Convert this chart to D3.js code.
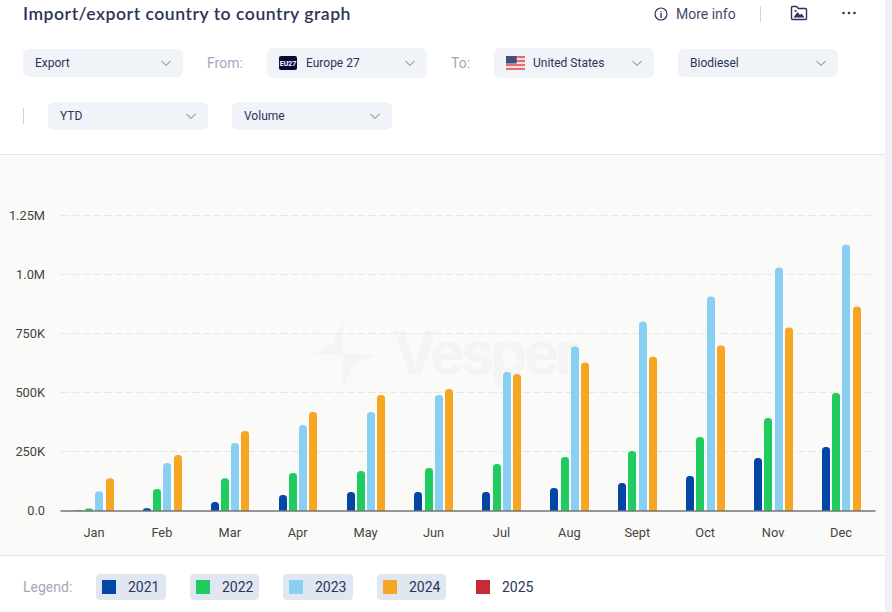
<!DOCTYPE html>
<html><head><meta charset="utf-8">
<script src="https://cdn.jsdelivr.net/npm/d3@7/dist/d3.min.js"></script>
<style>
html,body{margin:0;padding:0;background:#fff;overflow:hidden}
svg{display:block}
text{font-family:Roboto,sans-serif}
</style></head><body>
<svg id="c" width="892" height="612"></svg>
<script>
const months=["Jan","Feb","Mar","Apr","May","Jun","Jul","Aug","Sept","Oct","Nov","Dec"];
const years=["2021","2022","2023","2024"];
const legendYears=["2021","2022","2023","2024","2025"];
const v2021=[1000,10000,36000,66000,78000,78000,78000,95000,116000,146000,222000,269000];
const v2022=[9000,91000,137000,159000,167000,180000,197000,227000,252000,311000,392000,498000];
const v2023=[82000,201000,286000,362000,417000,489000,587000,695000,801000,907000,1030000,1127000];
const v2024=[137000,235000,337000,417000,489000,515000,578000,627000,652000,699000,775000,864000];
const seriesValues=[v2021,v2022,v2023,v2024];
const colors=["#0346a6","#20cb60","#89cff1","#f6a623","#c92a3a"];
const yTicks=[0,250000,500000,750000,1000000,1250000];
const yTickLabels=["0.0","250K","500K","750K","1.0M","1.25M"];

const svg=d3.select("#c");
const ink="#2c3459", muted="#a4a8bb", pill="#f0f3f8";

// panel
svg.append("rect").attr("x",0).attr("y",155).attr("width",885).attr("height",400).attr("fill","#fafaf8");
svg.append("line").attr("x1",0).attr("x2",885).attr("y1",154.5).attr("y2",154.5).attr("stroke","#e6e6e6");
svg.append("line").attr("x1",0).attr("x2",885).attr("y1",555.5).attr("y2",555.5).attr("stroke","#e6e6e6");
svg.append("rect").attr("x",885).attr("y",0).attr("width",7).attr("height",612).attr("fill","#eef1f8");
svg.append("rect").attr("x",885).attr("y",556).attr("width",1).attr("height",56).attr("fill","#e8ebf2");

// header
svg.append("text").attr("x",23).attr("y",20).attr("font-size",17.6).attr("font-weight",600).attr("fill",ink)
  .style("font-family","Lato, sans-serif").attr("letter-spacing",0.52).text("Import/export country to country graph");
svg.append("circle").attr("cx",661).attr("cy",14).attr("r",6).attr("fill","none").attr("stroke",ink).attr("stroke-width",1.2);
svg.append("text").attr("x",661).attr("y",17.5).attr("text-anchor","middle").attr("font-size",9.5).attr("font-weight",700).attr("fill",ink).text("i");
svg.append("text").attr("x",676).attr("y",19).attr("font-size",14).attr("fill","#444b6b").text("More info");
svg.append("line").attr("x1",760.5).attr("x2",760.5).attr("y1",6).attr("y2",22).attr("stroke","#cfd2dc");
// image icon
svg.append("path").attr("d","M791.5 7.5a1 1 0 0 1 1-1h4l2 2h7a1 1 0 0 1 1 1v9a1 1 0 0 1-1 1h-13a1 1 0 0 1-1-1z").attr("fill","none").attr("stroke",ink).attr("stroke-width",1.4);
svg.append("path").attr("d","M793.5 17.5l4-5.5 2.5 3 1.5-1.5 3 4z").attr("fill",ink);
svg.append("circle").attr("cx",795.5).attr("cy",11).attr("r",1.1).attr("fill",ink);
[843.5,849,854.5].forEach(x=>svg.append("circle").attr("cx",x).attr("cy",13).attr("r",1.3).attr("fill",ink));

// controls
const controls=[
 {x:23,y:49,h:28,label:"Export"},
 {x:267,y:48,h:30,label:"Europe 27",flag:"eu"},
 {x:494,y:48,h:30,label:"United States",flag:"us"},
 {x:678,y:49,h:28,label:"Biodiesel"},
 {x:48,y:102,h:28,label:"YTD"},
 {x:232,y:102,h:28,label:"Volume"}];
controls.forEach(c=>{
  const g=svg.append("g").attr("transform",`translate(${c.x},${c.y})`);
  g.append("rect").attr("width",160).attr("height",c.h).attr("rx",6).attr("fill",pill);
  const my=c.h/2;
  g.append("text").attr("x",c.flag?39:12).attr("y",my+4.2).attr("font-size",12).attr("fill",ink).text(c.label);
  g.append("path").attr("d",`M${138.5} ${my-2}l4.5 4.5l4.5-4.5`).attr("fill","none").attr("stroke","#a3a7b5").attr("stroke-width",1.2);
  if(c.flag==="eu"){
    g.append("rect").attr("x",12).attr("y",my-7).attr("width",18).attr("height",14).attr("rx",2).attr("fill","#060a3a");
    g.append("text").attr("x",21).attr("y",my+2.6).attr("text-anchor","middle").attr("font-size",7).attr("font-weight",700).attr("fill","#fff").text("EU27");
  }
  if(c.flag==="us"){
    d3.range(7).forEach(i=>g.append("rect").attr("x",12).attr("y",my-7+i*2).attr("width",19).attr("height",2).attr("fill",i%2?"#f6dcdc":"#df6f76"));
    g.append("rect").attr("x",12).attr("y",my-7).attr("width",10.7).attr("height",7.5).attr("fill","#3f4f7f");
  }
});
svg.append("text").attr("x",207).attr("y",67.5).attr("font-size",14).attr("fill",muted).text("From:");
svg.append("text").attr("x",451).attr("y",67.5).attr("font-size",14).attr("fill",muted).text("To:");
svg.append("line").attr("x1",23.5).attr("x2",23.5).attr("y1",108).attr("y2",124).attr("stroke","#cfd2dc");

// watermark
const wm=svg.append("g").attr("fill","#f4f4f2");
wm.append("path").attr("d","M343 322L333 344L309 354.5L343 354.5Z M376.7 354.5L353 365L343 388L343 354.5Z");
wm.append("text").attr("x",393).attr("y",374).attr("font-size",59).attr("font-weight",700).attr("letter-spacing",-3.8).style("font-family","Inter, sans-serif").text("Vesper");

// chart
const x=d3.scaleBand().domain(months).range([60,875]);
const xi=d3.scaleBand().domain(years).range([x.bandwidth()/2-19.075,x.bandwidth()/2+19.675]).paddingInner(0.2195);
const y=d3.scaleLinear().domain([0,1250000]).range([510.5,215.5]);

// grid
const gridG=svg.append("g");
gridG.selectAll("line").data(yTicks.slice(1)).join("line")
  .attr("x1",60).attr("x2",875).attr("y1",d=>y(d)).attr("y2",d=>y(d))
  .attr("stroke","#e7e7e5").attr("stroke-width",1).attr("stroke-dasharray","8 3");

// y axis labels
const yAxis=d3.axisLeft(y).tickValues(yTicks).tickSize(0).tickPadding(15)
  .tickFormat((d,i)=>yTickLabels[i]);
const yG=svg.append("g").attr("transform","translate(60,0)").call(yAxis);
yG.select(".domain").remove();
yG.selectAll("text").attr("font-size",12.8).attr("fill","#444").style("font-family","Roboto,sans-serif");

// bars with rounded tops
function barPath(x0,w,y0,y1){
  const r=Math.min(3.5,w/2,y0-y1);
  return `M${x0},${y0}V${y1+r}Q${x0},${y1} ${x0+r},${y1}H${x0+w-r}Q${x0+w},${y1} ${x0+w},${y1+r}V${y0}Z`;
}
years.forEach((yr,si)=>{
  svg.append("g").attr("fill",colors[si]).selectAll("path").data(seriesValues[si]).join("path")
    .attr("d",(d,i)=>barPath(Math.round(x(months[i])+xi(yr)),Math.round(xi.bandwidth()),y(0),y(d)));
});

// x axis
const xAxis=d3.axisBottom(x).tickSize(0).tickPadding(17);
const xG=svg.append("g").attr("transform","translate(0,510.5)").call(xAxis);
xG.select(".domain").attr("stroke","#333").attr("stroke-width",1.2);
xG.selectAll("text").attr("font-size",12.8).attr("fill","#444").style("font-family","Roboto,sans-serif");

// legend
svg.append("text").attr("x",23).attr("y",592).attr("font-size",14).attr("fill",muted).text("Legend:");
const legendX=[96,190,283,377,470];
const legendW=[70,69,70,69,0];
legendYears.forEach((yr,i)=>{
  const g=svg.append("g").attr("transform",`translate(${legendX[i]},574)`);
  if(legendW[i]) g.append("rect").attr("width",legendW[i]).attr("height",26).attr("rx",4).attr("fill","#e1e7f2");
  g.append("rect").attr("x",6).attr("y",6).attr("width",14).attr("height",14).attr("fill",colors[i]);
  g.append("text").attr("x",32).attr("y",18).attr("font-size",14).attr("fill",ink).text(yr);
});
</script></body></html>
